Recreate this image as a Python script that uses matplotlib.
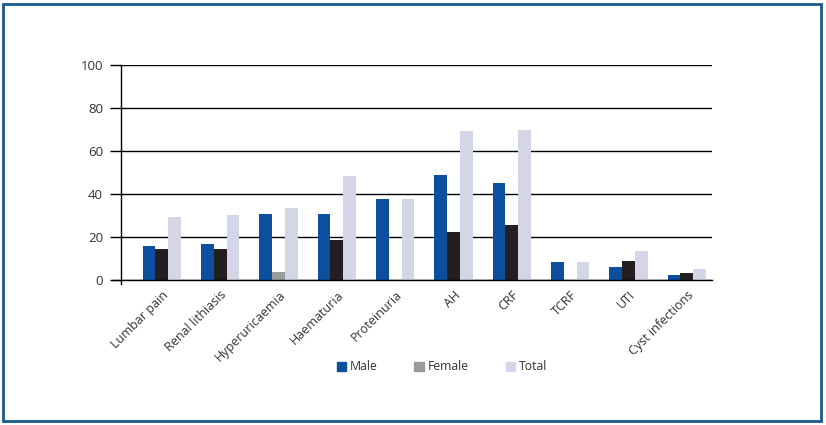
import matplotlib.pyplot as plt
import numpy as np
from matplotlib.patches import Rectangle, Patch

categorias = ["Lumbar pain", "Renal lithiasis", "Hyperuricaemia", "Haematuria",
              "Proteinuria", "AH", "CRF", "TCRF", "UTI", "Cyst infections"]
male = [16.0, 16.6, 30.9, 30.9, 37.5, 48.7, 45.1, 8.2, 6.2, 2.5]
female = [14.2, 14.6, 3.9, 18.4, 0, 22.5, 25.5, 0, 8.7, 3.1]
total = [29.5, 30.2, 33.7, 48.2, 37.5, 69.4, 69.8, 8.2, 13.7, 5.3]
yticks = [0, 20, 40, 60, 80, 100]

cor_male = "#0c4f9f"
cor_female = "#231f20"
cor_female_leg = "#9b9b9b"
cor_total = "#d4d6e8"

plt.rcParams["font.family"] = ["Open Sans", "DejaVu Sans"]

fig = plt.figure(figsize=(8.26, 4.25), dpi=100)
ax = fig.add_axes([121 / 826, 1 - 280 / 425, 591 / 826, 215 / 425])

x = np.arange(len(categorias))
w = 0.22
# a barra feminina de Hyperuricaemia é cinza no original
cores_fem = [cor_female_leg if c == "Hyperuricaemia" else cor_female for c in categorias]

ax.bar(x - w, male, width=w, color=cor_male, zorder=3)
ax.bar(x, female, width=w, color=cores_fem, zorder=3)
ax.bar(x + w, total, width=w, color=cor_total, zorder=3)

ax.set_xlim(-0.70, 9.43)
ax.set_ylim(0, 100)
ax.set_yticks(yticks)
ax.yaxis.grid(True, color="black", linewidth=1.0, zorder=1)
for s in ["top", "right", "bottom"]:
    ax.spines[s].set_visible(False)
ax.spines["left"].set_linewidth(1.0)
ax.spines["left"].set_bounds(-2, 100)
ax.spines["left"].set_clip_on(False)
ax.tick_params(axis="y", length=8, width=1.0, labelsize=9.5, colors="black",
               labelcolor="#333333", pad=5)
ax.set_xticks(x)
ax.set_xticklabels(categorias, rotation=45, ha="right", rotation_mode="anchor",
                   fontsize=9, color="#333333")
ax.tick_params(axis="x", length=0, pad=6)
ax.axhline(0, color="black", linewidth=1.0, zorder=4, clip_on=False,
           xmin=-8 / 591, xmax=1)

handles = [Patch(color=cor_male, label="Male"),
           Patch(color=cor_female_leg, label="Female"),
           Patch(color=cor_total, label="Total")]
fig.legend(handles=handles, loc="center", bbox_to_anchor=(442 / 826, 1 - 367 / 425),
           ncol=3, frameon=False, fontsize=8.8, handlelength=0.75, handleheight=0.75,
           columnspacing=3.0, handletextpad=0.35, labelcolor="#333333")

fig.patches.append(Rectangle((3 / 826, 4 / 425), 818 / 826, 417 / 425,
                             transform=fig.transFigure, fill=False,
                             edgecolor="#1b5a8c", linewidth=2.0))

fig.savefig("out.png", dpi=100)
